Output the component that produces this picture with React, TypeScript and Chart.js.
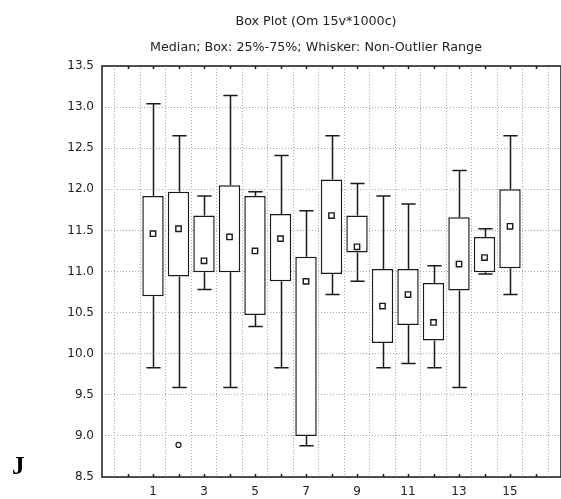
import React, { useEffect, useRef } from "react";
import { Chart, registerables } from "chart.js";

Chart.register(...registerables);

const categories = [1, 2, 3, 4, 5, 6, 7, 8, 9, 10, 11, 12, 13, 14, 15];
const whiskerLow = [9.83, 9.59, 10.78, 9.59, 10.33, 9.83, 8.88, 10.72, 10.88, 9.83, 9.88, 9.83, 9.59, 10.97, 10.72];
const q1 = [10.7, 10.94, 10.99, 10.99, 10.47, 10.88, 9.0, 10.97, 11.23, 10.13, 10.35, 10.16, 10.77, 10.99, 11.04];
const medians = [11.46, 11.52, 11.13, 11.42, 11.25, 11.4, 10.88, 11.68, 11.3, 10.58, 10.72, 10.38, 11.09, 11.17, 11.55];
const q3 = [11.92, 11.97, 11.68, 12.05, 11.92, 11.7, 11.18, 12.12, 11.68, 11.03, 11.03, 10.86, 11.66, 11.42, 12.0];
const whiskerHigh = [13.04, 12.65, 11.92, 13.14, 11.97, 12.41, 11.74, 12.65, 12.07, 11.92, 11.82, 11.07, 12.23, 11.52, 12.65];
const outlierX = [2];
const outlierY = [8.89];
const xLabels = [1, 3, 5, 7, 9, 11, 13, 15];

const titleText = "Box Plot (Om 15v*1000c)";
const subtitleText = "Median; Box: 25%-75%; Whisker: Non-Outlier Range";
const cornerLetter = "J";

const LINE = "#1a1a1a";
const FONT = "DejaVu Sans";

const boxPlugin = {
  id: "boxExtras",
  beforeDatasetsDraw(chart: any) {
    const ctx = chart.ctx;
    const xs = chart.scales.x;
    const ys = chart.scales.y;
    ctx.save();
    ctx.strokeStyle = LINE;
    ctx.lineWidth = 1.5;
    categories.forEach((c, i) => {
      const x = Math.round(xs.getPixelForValue(c)) + 0.5;
      const half = (xs.getPixelForValue(c + 0.28) - xs.getPixelForValue(c - 0.28)) / 2;
      const yHi = ys.getPixelForValue(whiskerHigh[i]);
      const yQ3 = ys.getPixelForValue(q3[i]);
      const yLo = ys.getPixelForValue(whiskerLow[i]);
      const yQ1 = ys.getPixelForValue(q1[i]);
      ctx.beginPath();
      ctx.moveTo(x, yQ3);
      ctx.lineTo(x, yHi);
      ctx.moveTo(x - half, yHi);
      ctx.lineTo(x + half, yHi);
      ctx.moveTo(x, yQ1);
      ctx.lineTo(x, yLo);
      ctx.moveTo(x - half, yLo);
      ctx.lineTo(x + half, yLo);
      ctx.stroke();
    });
    ctx.restore();
  },
  afterDraw(chart: any) {
    const ctx = chart.ctx;
    const a = chart.chartArea;
    const xs = chart.scales.x;
    ctx.save();
    ctx.strokeStyle = LINE;
    ctx.lineWidth = 1.5;
    ctx.strokeRect(a.left, a.top, a.right - a.left, a.bottom - a.top);
    // small inner tick marks on top and bottom borders
    ctx.lineWidth = 1.5;
    ctx.beginPath();
    xs.ticks.forEach((t: any) => {
      const x = Math.round(xs.getPixelForValue(t.value)) + 0.5;
      if (x <= a.left + 1 || x >= a.right - 1) return;
      ctx.moveTo(x, a.top);
      ctx.lineTo(x, a.top + 3);
      ctx.moveTo(x, a.bottom);
      ctx.lineTo(x, a.bottom - 3);
    });
    ctx.stroke();
    ctx.fillStyle = "#222";
    ctx.textAlign = "center";
    ctx.textBaseline = "middle";
    ctx.font = `12.7px "${FONT}"`;
    ctx.fillText(titleText, 316, 22);
    ctx.fillText(subtitleText, 316, 48);
    ctx.font = `bold 25px "Liberation Serif"`;
    ctx.textAlign = "left";
    ctx.textBaseline = "alphabetic";
    ctx.fillStyle = "#000";
    ctx.fillText(cornerLetter, 12, 474);
    ctx.restore();
  },
};

export default function App() {
  const ref = useRef<HTMLCanvasElement | null>(null);
  useEffect(() => {
    if (!ref.current) return;
    const chart = new Chart(ref.current, {
      type: "bar",
      data: {
        datasets: [
          {
            type: "bar",
            label: "Box",
            data: categories.map((c, i) => ({ x: c, y: [q1[i], q3[i]] })) as any,
            backgroundColor: "#ffffff",
            borderColor: LINE,
            borderWidth: 1.5,
            borderSkipped: false,
            categoryPercentage: 1,
            barPercentage: 0.84,
            order: 2,
          } as any,
          {
            type: "scatter",
            label: "Median",
            data: categories.map((c, i) => ({ x: c, y: medians[i] })),
            pointStyle: "rect",
            pointRadius: 3.8,
            pointBackgroundColor: "#ffffff",
            pointBorderColor: LINE,
            pointBorderWidth: 1.4,
            order: 1,
          } as any,
          {
            type: "scatter",
            label: "Outliers",
            data: outlierX.map((x, i) => ({ x, y: outlierY[i] })),
            pointStyle: "circle",
            pointRadius: 2.5,
            pointBackgroundColor: "#ffffff",
            pointBorderColor: LINE,
            pointBorderWidth: 1.2,
            order: 0,
          } as any,
        ],
      },
      options: {
        animation: false,
        responsive: true,
        maintainAspectRatio: false,
        layout: { autoPadding: false, padding: { top: 66, left: 0, right: 0, bottom: 0 } },
        plugins: {
          legend: { display: false },
          title: { display: false },
          tooltip: { enabled: false },
        },
        scales: {
          x: {
            type: "linear",
            min: -1,
            max: 17,
            offset: false,
            afterFit: (s: any) => {
              s.height = 22;
              s.paddingLeft = 0;
              s.paddingRight = 0;
            },
            ticks: {
              stepSize: 1,
              autoSkip: false,
              maxRotation: 0,
              padding: 8,
              color: "#222",
              font: { family: FONT, size: 12 },
              callback: (v: any) => (xLabels.includes(Number(v)) ? String(v) : ""),
            },
            grid: { color: "#a8a8a8", lineWidth: 1, drawTicks: false },
            border: { display: false, dash: [1, 2] },
          },
          y: {
            type: "linear",
            min: 8.5,
            max: 13.5,
            afterFit: (s: any) => {
              s.width = 102;
              s.paddingTop = 0;
              s.paddingBottom = 0;
            },
            ticks: {
              stepSize: 0.5,
              padding: 8,
              color: "#222",
              font: { family: FONT, size: 12 },
              callback: (v: any) => Number(v).toFixed(1),
            },
            grid: { color: "#a8a8a8", lineWidth: 1, drawTicks: false },
            border: { display: false, dash: [1, 2] },
          },
        },
      },
      plugins: [boxPlugin],
    });
    return () => chart.destroy();
  }, []);
  return (
    <div style={{ position: "absolute", left: 0, top: 0, width: 561, height: 499 }}>
      <canvas ref={ref} />
    </div>
  );
}
